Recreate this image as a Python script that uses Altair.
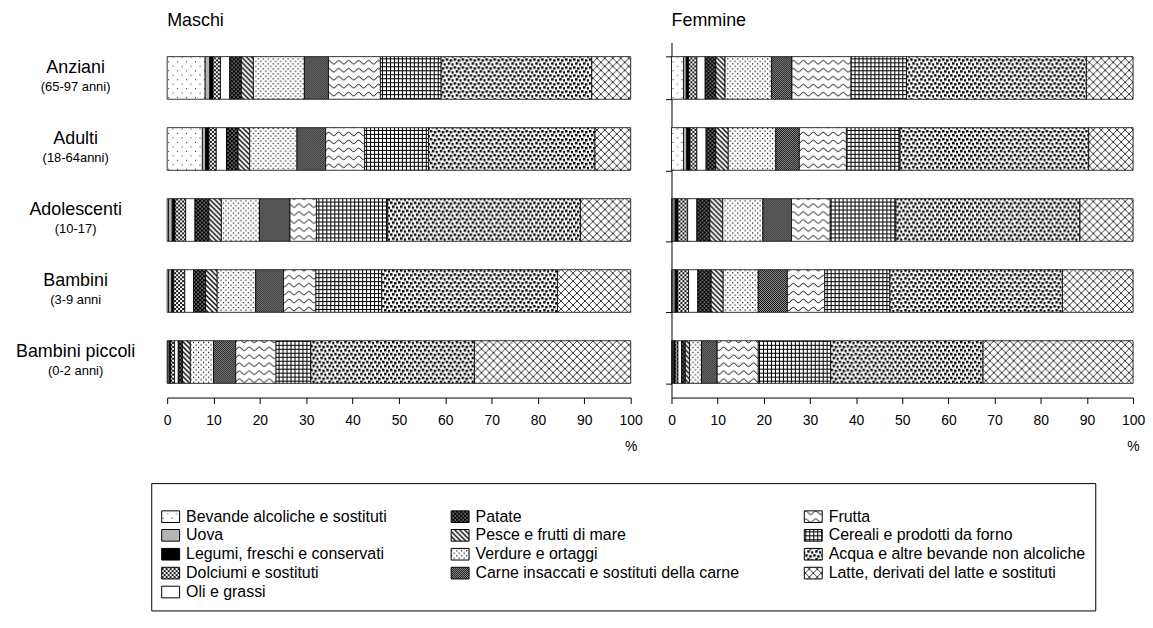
import altair as alt
import pandas as pd

# ---------------- data ----------------
groups = ["Anziani", "Adulti", "Adolescenti", "Bambini", "Bambini piccoli"]
group_ages = ["(65-97 anni)", "(18-64anni)", "(10-17)", "(3-9 anni", "(0-2 anni)"]

categories = [
    "Bevande alcoliche e sostituti",
    "Uova",
    "Legumi, freschi e conservati",
    "Dolciumi e sostituti",
    "Oli e grassi",
    "Patate",
    "Pesce e frutti di mare",
    "Verdure e ortaggi",
    "Carne insaccati e sostituti della carne",
    "Frutta",
    "Cereali e prodotti da forno",
    "Acqua e altre bevande non alcoliche",
    "Latte, derivati del latte e sostituti",
]

# percentage share of each category (same order as categories)
maschi_anziani = [8.2, 1.0, 0.7, 1.6, 2.0, 2.5, 2.6, 11.0, 5.2, 11.2, 13.1, 32.5, 8.4]
maschi_adulti = [7.6, 0.7, 0.7, 1.6, 2.2, 2.5, 2.5, 10.2, 6.2, 8.4, 13.8, 35.9, 7.7]
maschi_adolescenti = [0.3, 0.8, 0.6, 2.3, 2.0, 3.0, 2.7, 8.2, 6.6, 5.7, 15.3, 41.7, 10.8]
maschi_bambini = [0.3, 0.7, 0.4, 2.4, 1.9, 2.6, 2.5, 8.3, 6.0, 7.0, 14.2, 37.9, 15.8]
maschi_piccoli = [0.2, 0.3, 0.3, 0.8, 0.8, 0.9, 1.7, 5.0, 4.8, 8.7, 7.5, 35.3, 33.7]

femmine_anziani = [2.6, 0.6, 0.5, 1.8, 1.8, 2.3, 2.0, 10.1, 4.4, 12.8, 12.0, 39.0, 10.1]
femmine_adulti = [2.6, 0.7, 0.7, 1.5, 2.0, 2.1, 2.7, 10.3, 5.1, 10.2, 11.6, 40.9, 9.6]
femmine_adolescenti = [0.3, 0.5, 0.6, 2.1, 2.0, 2.8, 2.8, 8.7, 6.2, 8.4, 14.2, 39.9, 11.5]
femmine_bambini = [0.3, 0.5, 0.5, 2.4, 2.0, 2.9, 2.6, 7.6, 6.3, 8.1, 14.1, 37.4, 15.3]
femmine_piccoli = [0.2, 0.3, 0.3, 0.6, 0.8, 0.8, 0.9, 2.6, 3.4, 8.9, 15.7, 33.0, 32.5]

panel_titles = ["Maschi", "Femmine"]

# ---------------- styles (fills) ----------------
fills = [
    "url(#p_bev)", "#b4b4b4", "black", "url(#p_dol)", "white", "url(#p_pat)",
    "url(#p_pes)", "url(#p_ver)", "url(#p_car)", "url(#p_fru)", "url(#p_cer)",
    "url(#p_acq)", "url(#p_lat)",
]
fill_of = dict(zip(categories, fills))

# legend: 3 columns filled column by column (5, 4, 4 entries); legend grid is row-major
cols = [categories[0:5], categories[5:9], categories[9:13]]
legend_order = []
for r in range(5):
    for c in cols:
        if r < len(c):
            legend_order.append(c[r])
legend_fills = [fill_of[c] for c in legend_order]

tables = {
    "Maschi": [maschi_anziani, maschi_adulti, maschi_adolescenti, maschi_bambini, maschi_piccoli],
    "Femmine": [femmine_anziani, femmine_adulti, femmine_adolescenti, femmine_bambini, femmine_piccoli],
}
rows = []
for sex, table in tables.items():
    for g, vals in zip(groups, table):
        for i, (c, v) in enumerate(zip(categories, vals)):
            rows.append({"sex": sex, "group": g, "category": c, "value": v, "idx": i})
df = pd.DataFrame(rows)
lab = pd.DataFrame({"group": groups, "age": group_ages})

FONT = "Liberation Sans"

legend = alt.Legend(
    title=" ", titleFontSize=10, titlePadding=4,
    orient="none", legendX=-16, legendY=443,
    direction="horizontal", columns=3, columnPadding=62, rowPadding=1,
    symbolType="M-1,-0.65H1V0.65H-1Z", symbolSize=324,
    symbolStrokeColor="black", symbolStrokeWidth=1, symbolOpacity=1,
    labelFontSize=16, labelOffset=6, labelLimit=500, labelColor="black", labelFont=FONT,
    padding=10, strokeColor="black", cornerRadius=0,
)


def bars_for(sex, width):
    return alt.Chart(df).transform_filter(alt.datum.sex == sex).mark_bar(
        stroke="black", strokeWidth=0.8
    ).encode(
        x=alt.X(
            "value:Q", stack="zero",
            scale=alt.Scale(domain=[0, 100], nice=False),
            axis=alt.Axis(
                values=list(range(0, 101, 10)), title="%", titleAnchor="end",
                titleAlign="center", titleFontWeight="normal", titleFontSize=14,
                titlePadding=12, titleColor="black", labelFontSize=14, labelColor="black",
                labelPadding=10, tickSize=6, grid=False, domainColor="black", tickColor="black",
                labelFlush=False, labelFont=FONT, titleFont=FONT,
            ),
        ),
        y=alt.Y(
            "group:N", sort=groups,
            scale=alt.Scale(paddingInner=0.4, paddingOuter=0.2),
            axis=alt.Axis(
                title=None, labels=False, tickBand="extent", tickSize=6,
                domainColor="black", tickColor="black", grid=False,
            ),
        ),
        color=alt.Color(
            "category:N",
            scale=alt.Scale(domain=legend_order, range=legend_fills),
            legend=legend,
        ),
        order=alt.Order("idx:Q", sort="ascending"),
    ).properties(width=width, height=357)


names = alt.Chart(lab).mark_text(fontSize=18, dy=-10, font=FONT, color="black").encode(
    y=alt.Y("group:N", sort=groups, axis=None), x=alt.value(-92), text="group:N"
)
ages = alt.Chart(lab).mark_text(fontSize=13, dy=9, font=FONT, color="black").encode(
    y=alt.Y("group:N", sort=groups, axis=None), x=alt.value(-92), text="age:N"
)


def ttl(t):
    return alt.Title(t, anchor="start", frame="group", fontSize=18, fontWeight="normal",
                     offset=13, color="black", font=FONT)


left = alt.layer(bars_for("Maschi", 466), names, ages).properties(
    width=466, height=357, title=ttl(panel_titles[0])
)
right = bars_for("Femmine", 464).properties(title=ttl(panel_titles[1]))

chart = alt.hconcat(left, right, spacing=22).configure(
    font=FONT, padding={"left": 7, "top": 2, "right": 0, "bottom": 5}
).configure_view(stroke=None)

TEMPLATE = """<!DOCTYPE html>
<html>
<head>
<meta charset="utf-8">
<style>
  #{{ output_div }}.vega-embed { width: 100%; display: flex; }
  #{{ output_div }}.vega-embed details, #{{ output_div }}.vega-embed details summary { position: relative; }
</style>
<script type="text/javascript" src="{{ base_url }}/vega@{{ vega_version }}"></script>
<script type="text/javascript" src="{{ base_url }}/vega-lite@{{ vegalite_version }}"></script>
<script type="text/javascript" src="{{ base_url }}/vega-embed@{{ vegaembed_version }}"></script>
</head>
<body>
<svg width="0" height="0" style="position:absolute" aria-hidden="true">
<defs>
<pattern id="p_bev" patternUnits="userSpaceOnUse" width="9" height="9">
  <rect width="9" height="9" fill="white"/>
  <rect x="1" y="1" width="1" height="1" fill="#222"/>
  <rect x="5.5" y="5.5" width="1" height="1" fill="#222"/>
</pattern>
<pattern id="p_dol" patternUnits="userSpaceOnUse" width="4" height="4">
  <rect width="4" height="4" fill="white"/>
  <path d="M0,0L4,4M4,0L0,4" stroke="black" stroke-width="0.9" fill="none"/>
</pattern>
<pattern id="p_pat" patternUnits="userSpaceOnUse" width="4" height="4">
  <rect width="4" height="4" fill="black"/>
  <rect x="0.5" y="0.5" width="1.2" height="1.2" fill="white"/>
  <rect x="2.5" y="2.5" width="1.2" height="1.2" fill="white"/>
</pattern>
<pattern id="p_pes" patternUnits="userSpaceOnUse" width="5" height="5">
  <rect width="5" height="5" fill="white"/>
  <path d="M0,0L5,5M-1,4L1,6M4,-1L6,1" stroke="black" stroke-width="1.4" fill="none"/>
</pattern>
<pattern id="p_ver" patternUnits="userSpaceOnUse" width="5" height="5">
  <rect width="5" height="5" fill="white"/>
  <rect x="1" y="1" width="1.2" height="1.2" fill="black"/>
  <rect x="3.5" y="3.5" width="1.2" height="1.2" fill="black"/>
</pattern>
<pattern id="p_car" patternUnits="userSpaceOnUse" width="2" height="2">
  <rect width="2" height="2" fill="#a8a8a8"/>
  <rect x="0" y="0" width="1" height="1" fill="black"/>
  <rect x="1" y="1" width="1" height="1" fill="black"/>
</pattern>
<pattern id="p_fru" patternUnits="userSpaceOnUse" width="10" height="8">
  <rect width="10" height="8" fill="white"/>
  <path d="M0,4 Q2.5,0.5 5,4 T10,4" stroke="black" stroke-width="1" fill="none"/>
</pattern>
<pattern id="p_cer" patternUnits="userSpaceOnUse" width="4" height="4">
  <rect width="4" height="4" fill="white"/>
  <path d="M0,0.5H4M0.5,0V4" stroke="black" stroke-width="1" fill="none"/>
</pattern>
<pattern id="p_acq" patternUnits="userSpaceOnUse" width="8" height="8">
  <rect width="8" height="8" fill="white"/>
  <rect x="0" y="0" width="2.5" height="2.5" fill="black"/>
  <rect x="4" y="1" width="2.5" height="2.5" fill="black"/>
  <rect x="2" y="4" width="2.5" height="2.5" fill="black"/>
  <rect x="6" y="5" width="2" height="2.5" fill="black"/>
</pattern>
<pattern id="p_lat" patternUnits="userSpaceOnUse" width="8" height="8">
  <rect width="8" height="8" fill="white"/>
  <path d="M0,0L8,8M8,0L0,8" stroke="#333" stroke-width="1" fill="none"/>
</pattern>
</defs>
</svg>
<div id="{{ output_div }}"></div>
<script>
  (function(vegaEmbed) {
    var spec = {{ spec }};
    var embedOpt = {{ embed_options }};
    function showError(el, error){
      el.innerHTML = ('<div style="color:red;"><p>JavaScript Error: ' + error.message + '</p></div>');
      throw error;
    }
    const el = document.getElementById('{{ output_div }}');
    vegaEmbed("#{{ output_div }}", spec, embedOpt).catch(error => showError(el, error));
  })(vegaEmbed);
</script>
</body>
</html>
"""

try:
    import jinja2
    _tpl = jinja2.Template(TEMPLATE)
    chart.save("out.html", embed_options={"renderer": "svg", "actions": False}, template=_tpl)
except Exception:
    chart.save("out.html", embed_options={"renderer": "svg", "actions": False})
